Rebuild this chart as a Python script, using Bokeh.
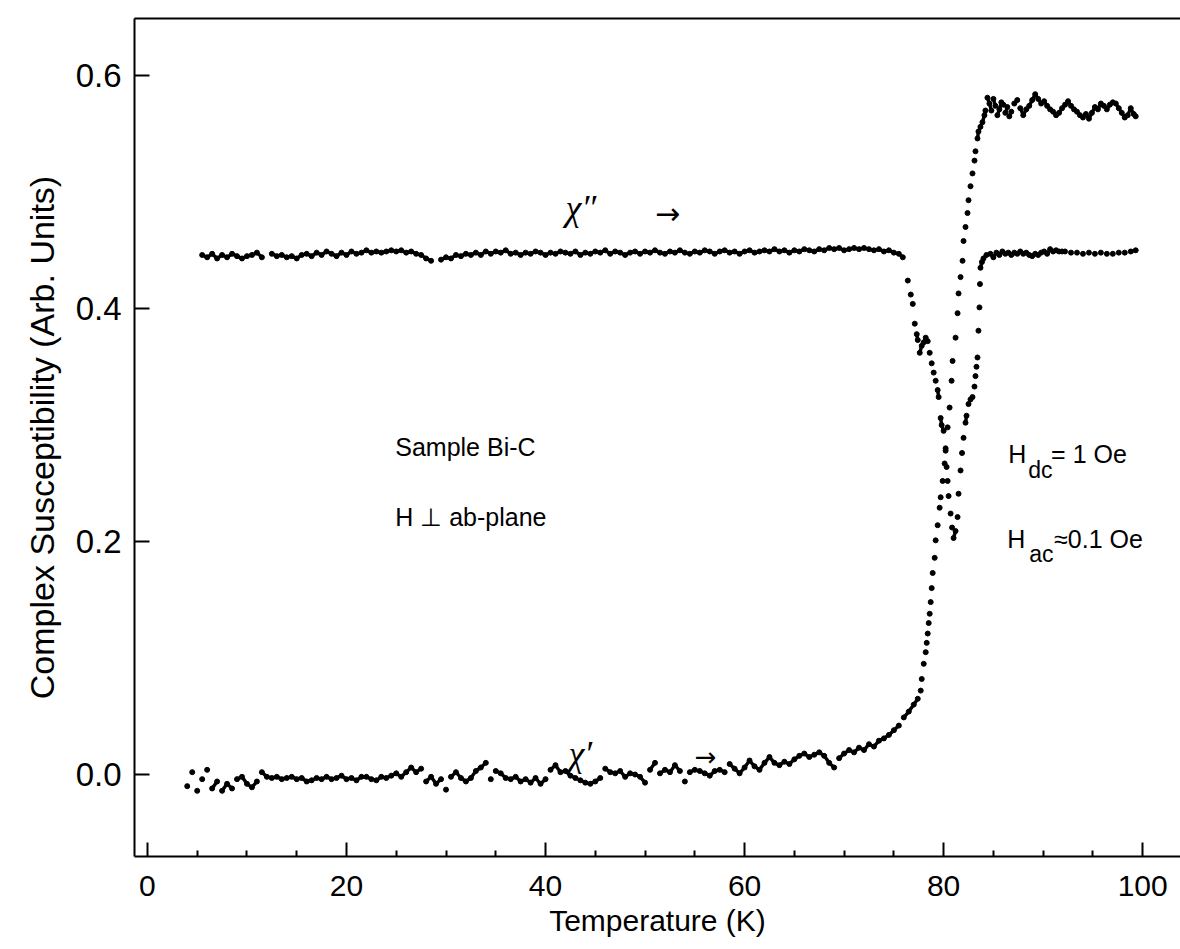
from bokeh.plotting import figure
from bokeh.models import Range1d, FixedTicker, PrintfTickFormatter, LinearAxis, Label
from bokeh.embed import file_html
from bokeh.resources import INLINE

# chi' (real part)
chi1_T = [4.0, 4.5, 5.0, 5.5, 6.0, 6.5, 7.0, 7.5, 8.0, 8.5, 9.0, 9.5, 10.0, 10.5, 11.0, 11.5,
          12.0, 12.5, 13.0, 13.5, 14.0, 14.5, 15.0, 15.5, 16.0, 16.5, 17.0, 17.5, 18.0, 18.5,
          19.0, 19.5, 20.0, 20.5, 21.0, 21.5, 22.0, 22.5, 23.0, 23.5, 24.0, 24.5, 25.0, 25.5,
          26.0, 26.5, 27.0, 27.5, 28.0, 28.5, 29.0, 29.5, 30.0, 30.5, 31.0, 31.5, 32.0, 32.5,
          33.0, 33.5, 34.0, 34.5, 35.0, 35.5, 36.0, 36.5, 37.0, 37.5, 38.0, 38.5, 39.0, 39.5,
          40.0, 40.5, 41.0, 41.5, 42.0, 42.5, 43.0, 43.5, 44.0, 44.5, 45.0, 45.5, 46.0, 46.5,
          47.0, 47.5, 48.0, 48.5, 49.0, 49.5, 50.0, 50.5, 51.0, 51.5, 52.0, 52.5, 53.0, 53.5,
          54.0, 54.5, 55.0, 55.5, 56.0, 56.5, 57.0, 57.5, 58.0, 58.5, 59.0, 59.5, 60.0, 60.5,
          61.0, 61.5, 62.0, 62.5, 63.0, 63.5, 64.0, 64.5, 65.0, 65.5, 66.0, 66.5, 67.0, 67.5,
          68.0, 68.5, 69.0, 69.5, 70.0, 70.5, 71.0, 71.5, 72.0, 72.5, 73.0, 73.5, 74.0, 74.5,
          75.0, 75.5, 76.0, 76.5, 77.0, 77.4, 77.7,
          77.8, 78.0, 78.2, 78.3, 78.4, 78.5, 78.6, 78.7, 78.8, 78.9, 79.1, 79.2, 79.4, 79.6,
          79.7, 79.9, 80.1, 80.2, 80.4, 80.6, 80.8, 80.9, 81.2, 81.4, 81.5, 81.7, 81.9, 82.0,
          82.2, 82.4, 82.5, 82.7, 82.9, 83.1, 83.2, 83.4, 83.5, 83.7, 83.9, 84.1, 84.2, 84.4,
          84.6, 84.8, 85.0, 85.2, 85.4, 85.6, 85.8, 86.0, 86.2, 86.4, 86.6, 86.8, 87.1, 87.4,
          87.7, 88.0, 88.3, 88.6, 88.9, 89.2, 89.5, 89.8, 90.1, 90.4, 90.7, 91.0, 91.3, 91.6,
          91.9, 92.2, 92.5, 92.8, 93.1, 93.4, 93.7, 94.0, 94.3, 94.6, 94.9, 95.2, 95.5, 95.8,
          96.1, 96.4, 96.7, 97.0, 97.3, 97.6, 97.9, 98.2, 98.5, 98.8, 99.1, 99.3]
chi1_v = [-0.010, 0.002, -0.014, -0.004, 0.004, -0.012, -0.006, -0.014, -0.008, -0.012, -0.004,
          -0.002, -0.008, -0.011, -0.006, 0.002,
          -0.002, -0.003, -0.002, -0.004, -0.003, -0.002, -0.004, -0.003, -0.006, -0.005, -0.003,
          -0.004, -0.002, -0.004, -0.003, -0.001, -0.004, -0.003, -0.005, -0.002, -0.002, -0.004,
          -0.005, -0.002, -0.003, -0.001, 0.001, -0.002, 0.002, 0.006, 0.002, 0.005, -0.006,
          -0.002, -0.008, -0.004, -0.013, -0.002, 0.002, -0.003, -0.006, -0.003, 0.003, 0.006,
          0.010, -0.004, 0.003, 0.001, -0.003, -0.004, -0.002, -0.006, -0.004, -0.007, -0.003,
          -0.008, -0.004, 0.004, 0.008, 0.002, 0.003, -0.001, -0.003, -0.005, -0.007, -0.008,
          -0.006, -0.003, 0.005, 0.002, 0.001, 0.003, -0.002, 0.001, 0.000, -0.002, -0.007,
          0.004, 0.010, 0.001, 0.004, 0.002, 0.008, 0.003, -0.006, 0.002, 0.004, 0.003, 0.001,
          -0.001, 0.003, 0.004, 0.002, 0.009, 0.005, 0.001, 0.006, 0.012, 0.007, 0.004, 0.010,
          0.015, 0.010, 0.008, 0.011, 0.009, 0.013, 0.016, 0.018, 0.015, 0.017, 0.019, 0.016,
          0.010, 0.006, 0.014, 0.018, 0.021, 0.019, 0.023, 0.021, 0.026, 0.024, 0.029, 0.031,
          0.034, 0.038, 0.042, 0.049, 0.054, 0.060, 0.065, 0.072,
          0.082, 0.095, 0.105, 0.113, 0.121, 0.130, 0.138, 0.148, 0.160, 0.173, 0.186, 0.201,
          0.214, 0.229, 0.238, 0.252, 0.267, 0.280, 0.298, 0.315, 0.338, 0.355, 0.375, 0.396,
          0.413, 0.427, 0.441, 0.458, 0.470, 0.482, 0.493, 0.505, 0.516, 0.527, 0.535, 0.546,
          0.552, 0.556, 0.560, 0.566, 0.570, 0.581,
          0.576, 0.570, 0.580, 0.574, 0.566, 0.571, 0.577, 0.575, 0.568, 0.573, 0.565, 0.569,
          0.576, 0.579, 0.572, 0.566, 0.571, 0.574, 0.579, 0.584, 0.580, 0.576, 0.578, 0.574,
          0.571, 0.569, 0.566, 0.568, 0.572, 0.575, 0.578, 0.574, 0.571, 0.569, 0.566, 0.564,
          0.567, 0.563, 0.568, 0.573, 0.571, 0.576, 0.574, 0.571, 0.575, 0.577, 0.576, 0.572,
          0.568, 0.564, 0.566, 0.572, 0.567, 0.565]

# chi'' (imaginary part)
chi2_T = [5.5, 6.0, 6.5, 7.0, 7.5, 8.0, 8.5, 9.0, 9.5, 10.0, 10.5, 11.0, 11.5,
          12.5, 13.0, 13.5, 14.0, 14.5, 15.0, 15.5, 16.0, 16.5, 17.0, 17.5, 18.0, 18.5, 19.0,
          19.5, 20.0, 20.5, 21.0, 21.5, 22.0, 22.5, 23.0, 23.5, 24.0, 24.5, 25.0, 25.5, 26.0,
          26.5, 27.0, 27.5, 28.0, 28.5,
          29.5, 30.0, 30.5, 31.0, 31.5, 32.0, 32.5, 33.0, 33.5, 34.0, 34.5, 35.0, 35.5, 36.0,
          36.5, 37.0, 37.5, 38.0, 38.5, 39.0, 39.5, 40.0, 40.5, 41.0, 41.5, 42.0, 42.5, 43.0,
          43.5, 44.0, 44.5, 45.0, 45.5, 46.0, 46.5, 47.0, 47.5, 48.0, 48.5, 49.0, 49.5, 50.0,
          50.5, 51.0, 51.5, 52.0, 52.5, 53.0, 53.5, 54.0, 54.5, 55.0, 55.5, 56.0, 56.5, 57.0,
          57.5, 58.0, 58.5, 59.0, 59.5, 60.0, 60.5, 61.0, 61.5, 62.0, 62.5, 63.0, 63.5, 64.0,
          64.5, 65.0, 65.5, 66.0, 66.5, 67.0, 67.5, 68.0, 68.5, 69.0, 69.5, 70.0, 70.5, 71.0,
          71.5, 72.0, 72.5, 73.0, 73.5, 74.0, 74.5, 75.0, 75.5, 75.9,
          76.4, 76.7, 76.9, 77.1, 77.3, 77.4, 77.6, 77.8, 78.0, 78.2, 78.4, 78.6, 78.8, 79.0,
          79.2, 79.4, 79.5, 79.7, 79.8, 80.0, 80.2, 80.3, 80.4, 80.5, 80.7, 80.85, 81.0, 81.2,
          81.4, 81.5, 81.7, 81.85, 82.0, 82.2, 82.3, 82.5, 82.7, 82.9, 83.1, 83.2, 83.3, 83.4,
          83.5, 83.6, 83.65, 83.7, 83.85, 84.0, 84.3, 84.7,
          85.0, 85.3, 85.6, 85.9, 86.2, 86.5, 86.8, 87.1, 87.4, 87.7, 88.0, 88.3, 88.6, 88.9,
          89.2, 89.5, 89.8, 90.1, 90.4, 90.7, 91.0, 91.3, 91.6, 91.9, 92.2,
          92.8, 93.4, 94.0, 94.6, 95.2, 95.8, 96.4, 97.0, 97.6, 98.2, 98.8, 99.3]
chi2_v = [0.446, 0.444, 0.447, 0.443, 0.446, 0.444, 0.447, 0.445, 0.443, 0.445, 0.446, 0.448,
          0.444,
          0.447, 0.445, 0.446, 0.444, 0.445, 0.443, 0.446, 0.447, 0.445, 0.448, 0.446, 0.449,
          0.447, 0.445, 0.448, 0.446, 0.449, 0.447, 0.448, 0.450, 0.448, 0.449, 0.448, 0.449,
          0.450, 0.449, 0.450, 0.448, 0.449, 0.447, 0.446, 0.443, 0.441,
          0.442, 0.444, 0.443, 0.446, 0.445, 0.447, 0.446, 0.448, 0.446, 0.449, 0.447, 0.449,
          0.448, 0.450, 0.447, 0.448, 0.446, 0.448, 0.447, 0.449, 0.448, 0.446, 0.448, 0.447,
          0.449, 0.448, 0.447, 0.449, 0.446, 0.448, 0.447, 0.449, 0.448, 0.450, 0.447, 0.449,
          0.448, 0.446, 0.448, 0.449, 0.447, 0.449, 0.448, 0.450, 0.448, 0.447, 0.449, 0.448,
          0.450, 0.448, 0.447, 0.449, 0.448, 0.450, 0.449, 0.447, 0.449, 0.450, 0.448, 0.449,
          0.447, 0.449, 0.450, 0.448, 0.449, 0.450, 0.449, 0.451, 0.449, 0.450, 0.448, 0.450,
          0.449, 0.451, 0.450, 0.449, 0.451, 0.450, 0.452, 0.451, 0.452, 0.450, 0.451, 0.452,
          0.451, 0.452, 0.451, 0.450, 0.451, 0.449, 0.450, 0.448, 0.447, 0.444,
          0.424, 0.412, 0.404, 0.387, 0.378, 0.373, 0.362, 0.368, 0.371, 0.375, 0.372, 0.362,
          0.353, 0.345, 0.338, 0.330, 0.324, 0.306, 0.300, 0.295, 0.278, 0.264, 0.252, 0.239,
          0.224, 0.212, 0.203, 0.209, 0.221, 0.241, 0.261, 0.276, 0.289, 0.302, 0.308, 0.318,
          0.322, 0.324, 0.333, 0.342, 0.350, 0.358, 0.381, 0.401, 0.421, 0.435, 0.440, 0.443,
          0.446, 0.447,
          0.444, 0.448, 0.446, 0.449, 0.447, 0.448, 0.446, 0.448, 0.447, 0.449, 0.447, 0.448,
          0.446, 0.445, 0.447, 0.446, 0.448, 0.449, 0.447, 0.451, 0.449, 0.450, 0.449, 0.449,
          0.449,
          0.448, 0.448, 0.447, 0.448, 0.447, 0.448, 0.447, 0.447, 0.448, 0.448, 0.449, 0.450]

x_ticks = [0, 20, 40, 60, 80, 100]
x_minor = [5, 10, 15, 25, 30, 35, 45, 50, 55, 65, 70, 75, 85, 90, 95]
y_ticks = [0.0, 0.2, 0.4, 0.6]

FONT = "Liberation Sans"

p = figure(width=1180, height=943, output_backend="svg", toolbar_location=None,
           x_range=Range1d(-1.3, 103.8), y_range=Range1d(-0.0704, 0.649),
           min_border_left=134, min_border_right=0, min_border_top=18, min_border_bottom=87,
           background_fill_color="white", border_fill_color="white")
p.outline_line_color = None
p.grid.visible = False


def segments(T, v):
    xs, ys = [], []
    for i in range(len(T) - 1):
        if T[i + 1] - T[i] <= 0.55 and abs(v[i + 1] - v[i]) < 0.0065:
            xs.append([T[i], T[i + 1]])
            ys.append([v[i], v[i + 1]])
    return xs, ys


for T, v in ((chi1_T, chi1_v), (chi2_T, chi2_v)):
    xs, ys = segments(T, v)
    p.multi_line(xs, ys, line_color="black", line_width=3.4)
    p.scatter(T, v, size=5, color="black", marker="circle")

# axes
xa = p.xaxis[0]
xa.ticker = FixedTicker(ticks=x_ticks, minor_ticks=x_minor)
ya = p.yaxis[0]
ya.ticker = FixedTicker(ticks=y_ticks, minor_ticks=[])
ya.formatter = PrintfTickFormatter(format="%.1f")
for ax in (xa, ya):
    ax.axis_line_width = 2
    ax.axis_line_color = "black"
    ax.major_tick_line_width = 2
    ax.minor_tick_line_width = 2
    ax.major_tick_out = 0
    ax.minor_tick_out = 0
    ax.major_label_text_font = FONT
    ax.major_label_text_color = "black"
    ax.axis_label_text_font = FONT
    ax.axis_label_text_font_style = "normal"
    ax.axis_label_text_color = "black"
xa.major_label_text_font_size = "30px"
ya.major_label_text_font_size = "33px"
xa.axis_label_text_font_size = "30px"
ya.axis_label_text_font_size = "34px"
xa.major_tick_in = 14
xa.minor_tick_in = 6
ya.major_tick_in = 15
ya.minor_tick_in = 0
xa.major_label_standoff = 19
ya.major_label_standoff = 13
xa.axis_label = "Temperature (K)"
ya.axis_label = "Complex Susceptibility (Arb. Units)"
xa.axis_label_standoff = 5
ya.axis_label_standoff = 12

top = LinearAxis(ticker=FixedTicker(ticks=[]), major_label_text_font_size="0px",
                 major_tick_in=0, major_tick_out=0, minor_tick_in=0, minor_tick_out=0,
                 axis_line_width=2, axis_line_color="black", major_label_standoff=0)
p.add_layout(top, "above")

# annotations
def lab(x, y, text, size, font=FONT, style="normal", baseline="alphabetic"):
    p.add_layout(Label(x=x, y=y, text=text, text_font=font, text_font_size=size,
                       text_font_style=style, text_baseline=baseline, text_color="black"))

lab(42.0, 0.486, "\u03c7\u2033", "36px", font="Liberation Serif", style="italic")
lab(51.0, 0.482, "\u2192", "30px", font="DejaVu Sans", baseline="middle")
lab(42.3, 0.018, "\u03c7\u2032", "36px", font="Liberation Serif", style="italic", baseline="middle")
lab(55.0, 0.0146, "\u2192", "26px", font="DejaVu Sans", baseline="middle")

lab(24.9, 0.281, "Sample Bi-C", "25px")
lab(24.9, 0.221, "H \u22a5 ab-plane", "25px")

lab(86.5, 0.275, "H", "25px")
lab(88.5, 0.261, "dc", "23px")
lab(90.8, 0.275, "= 1 Oe", "25px")
lab(86.4, 0.202, "H", "25px")
lab(88.6, 0.189, "ac", "23px")
lab(91.1, 0.202, "\u22480.1 Oe", "25px")

open("out.html", "w").write(file_html(p, INLINE))
